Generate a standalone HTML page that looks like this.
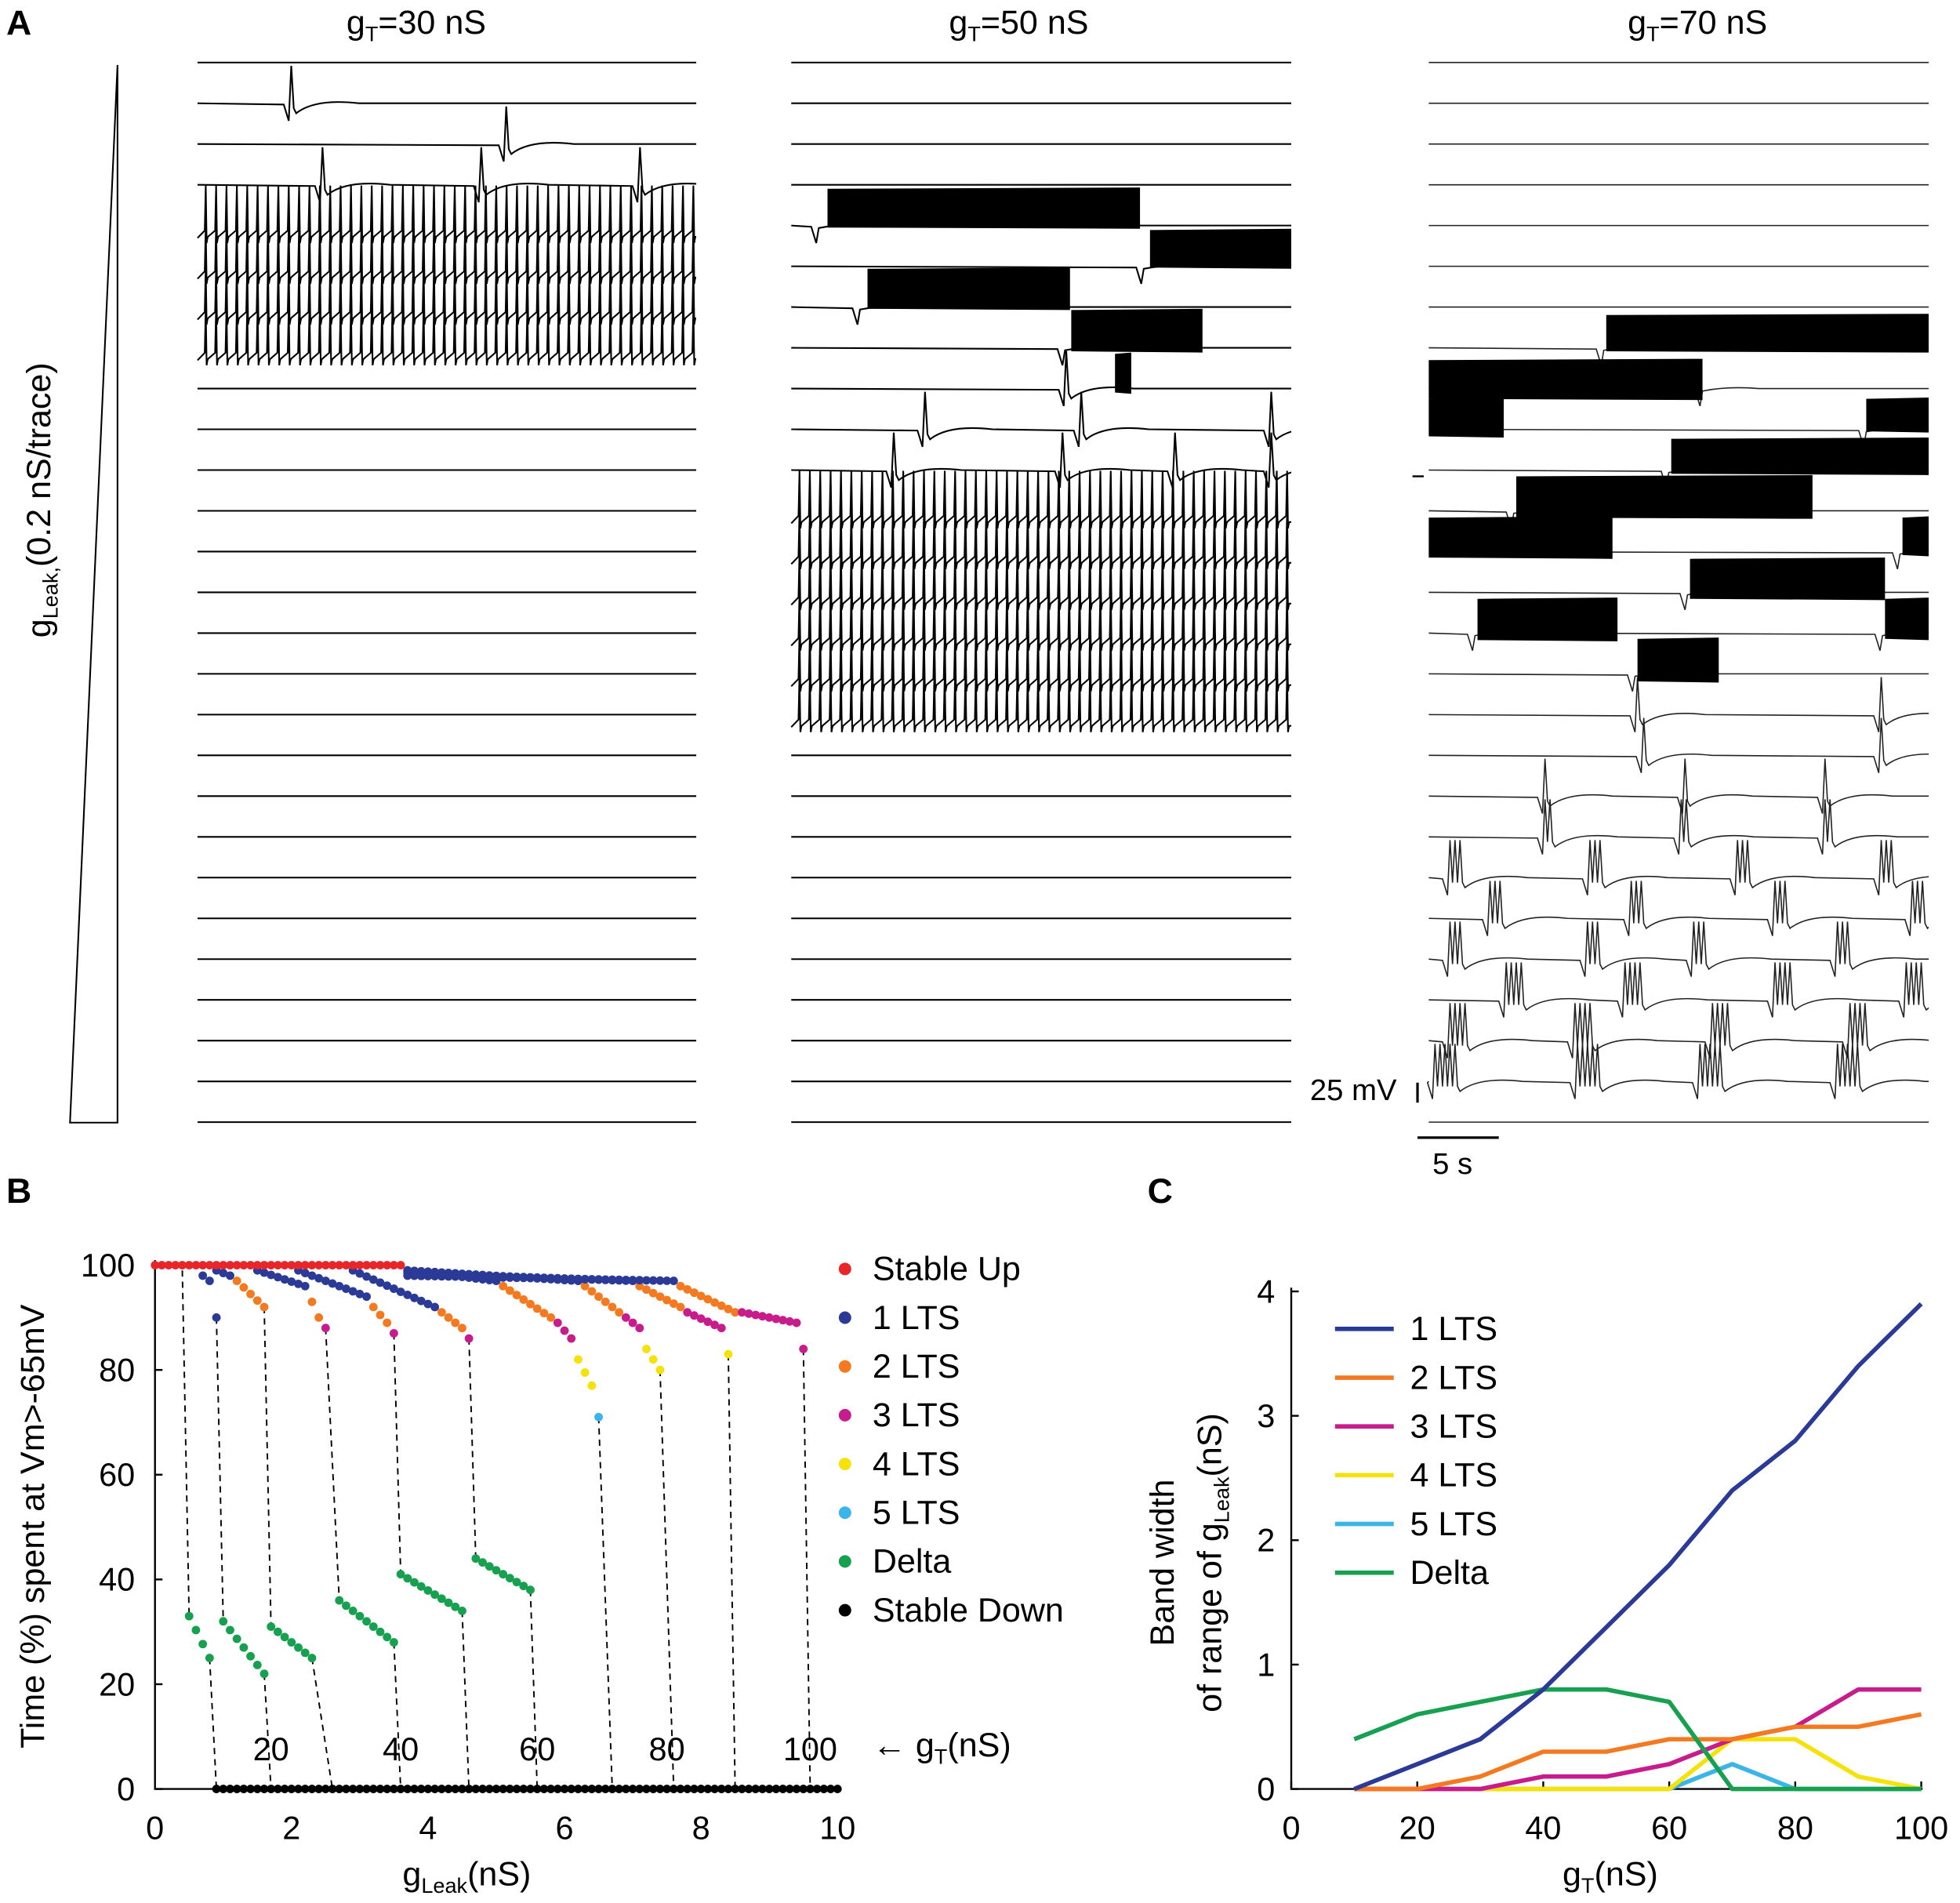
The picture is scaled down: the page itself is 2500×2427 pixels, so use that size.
<!DOCTYPE html>
<html><head><meta charset="utf-8">
<style>
html,body{margin:0;padding:0;background:#fff;}
svg{display:block;font-family:"Liberation Sans",Arial,sans-serif;}
</style></head>
<body>
<svg id="fig" xmlns="http://www.w3.org/2000/svg" width="2500" height="2427" viewBox="0 0 1568 1522.2">
<defs>
<clipPath id="clip0"><rect x="150" y="0" width="407" height="920"/></clipPath>
<clipPath id="clip1"><rect x="625" y="0" width="408" height="920"/></clipPath>
<clipPath id="clip2"><rect x="1135" y="0" width="408" height="920"/></clipPath>
</defs>
<rect width="1568" height="1523" fill="#fff"/>
<text x="5" y="28" font-size="28" font-weight="bold">A</text>
<text x="5" y="962" font-size="28" font-weight="bold">B</text>
<text x="918" y="962" font-size="28" font-weight="bold">C</text>
<text x="333" y="27" font-size="27" text-anchor="middle">g<tspan font-size="17" dy="6">T</tspan><tspan dy="-6">=30 nS</tspan></text>
<text x="815" y="27" font-size="27" text-anchor="middle">g<tspan font-size="17" dy="6">T</tspan><tspan dy="-6">=50 nS</tspan></text>
<text x="1358" y="27" font-size="27" text-anchor="middle">g<tspan font-size="17" dy="6">T</tspan><tspan dy="-6">=70 nS</tspan></text>
<polygon points="56,898 94,898 94,52" fill="none" stroke="#000" stroke-width="1.3"/>
<text transform="translate(40,400) rotate(-90)" font-size="27" text-anchor="middle">g<tspan font-size="17" dy="6">Leak,</tspan><tspan dy="-6">(0.2 nS/trace)</tspan></text>
<text x="1048" y="880" font-size="24">25 mV</text>
<line x1="1134" y1="866" x2="1134" y2="882" stroke="#000" stroke-width="2"/>
<line x1="1134" y1="910" x2="1199" y2="910" stroke="#000" stroke-width="2"/>
<text x="1146" y="939" font-size="24">5 s</text>
<g id="panelA"></g>
<g id="panelB"></g>
<g id="panelC"></g>
</svg>
<script>
const cGT = [10,20,30,40,50,60,70,80,90,100];
const cLTS1 = [0,0.2,0.4,0.8,1.3,1.8,2.4,2.8,3.4,3.9];
const cLTS2 = [0,0,0.1,0.3,0.3,0.4,0.4,0.5,0.5,0.6];
const cLTS3 = [0,0,0,0.1,0.1,0.2,0.4,0.5,0.8,0.8];
const cLTS4 = [0,0,0,0,0,0,0.4,0.4,0.1,0];
const cLTS5 = [0,0,0,0,0,0,0.2,0,0,0];
const cDelta = [0.4,0.6,0.7,0.8,0.8,0.7,0,0,0,0];
const cNames = ["1 LTS","2 LTS","3 LTS","4 LTS","5 LTS","Delta"];
const cColors = ["#2b3a96","#f47a22","#c81b8c","#f5e20a","#3bb4e8","#16a050"];
const cYTicks = [0,1,2,3,4];
const cXTicks = [0,20,40,60,80,100];
const bXTicks = [0,2,4,6,8,10];
const bYTicks = [0,20,40,60,80,100];
const bStableUp = [0,3.6,100];
const bStableDown = [0.9,10,0];
const bLtsSegments = [
 [0.7,0.8,98,97,1],[0.9,0.9,90,90,1],
 [0.9,1.1,99,98,1],[1.2,1.6,97,92,2],
 [1.5,2.2,99,96,1],[2.3,2.4,93,90,2],[2.5,2.5,88,88,3],
 [2.1,3.1,99,94,1],[3.2,3.4,92,89,2],[3.5,3.5,87,87,3],
 [2.9,4.1,99,92,1],[4.2,4.5,91,88,2],[4.6,4.6,86,86,3],
 [3.7,5.0,99,97,1],[5.1,5.8,96,90,2],[5.9,6.1,89,86,3],[6.2,6.4,82,77,4],[6.5,6.5,71,71,5],
 [3.7,6.2,99,97,1],[6.3,6.8,96,91,2],[6.9,7.1,90,88,3],[7.2,7.4,84,80,4],
 [3.7,7.0,98.5,97,1],[7.1,7.7,96,92,2],[7.8,8.3,91,88,3],[8.4,8.4,83,83,4],
 [3.7,7.6,98,97,1],[7.7,8.5,96,91,2],[8.6,9.4,91,89,3],[9.5,9.5,84,84,3]
];
const bDeltaSegments = [[0.5,0.8,33,25],[1.0,1.6,32,22],[1.7,2.3,31,25],[2.7,3.5,36,28],[3.6,4.5,41,34],[4.7,5.5,44,38]];
const bTransStart = [[0.4,99],[0.9,90],[1.6,92],[2.5,88],[3.5,87],[4.6,86],[6.5,71],[7.4,80],[8.4,83],[9.5,84]];
const bZeroX = [0.9,1.7,2.6,3.6,4.6,5.6,6.7,7.6,8.5,9.6];
const bGtLabels = ["20","40","60","80","100"];
const bGtLabelX = [1.7,3.6,5.6,7.5,9.6];
const bLegend = ["Stable Up","1 LTS","2 LTS","3 LTS","4 LTS","5 LTS","Delta","Stable Down"];
const bLegendColors = ["#e8262a","#2b3a96","#f47a22","#c81b8c","#f5e20a","#3bb4e8","#16a050","#000"];
const ltsColors = ["","#2b3a96","#f47a22","#c81b8c","#f5e20a","#3bb4e8"];

const NS = "http://www.w3.org/2000/svg";
function mk(tag, attrs, parent){ const e=document.createElementNS(NS,tag); for(const k in attrs) e.setAttribute(k,attrs[k]); parent.appendChild(e); return e; }

const A = document.getElementById('panelA');
const traceY = k => 50 + k*32.6;
const col1Spikes = {1:[[233,1]],2:[[405,1]],3:[[258,1],[385,1],[512,1]]};
const col1Osc = [4,5,6,7];
const col2Spikes = {4:[[655,0]],5:[[915,0]],6:[[688,0]],7:[[852,0]],8:[[853,1]],9:[[740,1],[865,1],[1017,1]],10:[[715,1],[850,1],[940,1],[1017,1]]};
const col2Blocks = [[4,662,912,150,183],[5,920,1033,183,215],[6,694,856,214,248],[7,857,962,247,282],[7,892,905,282,315]];
const col2Osc = [11,12,13,14,15,16];
const col3Spikes = {7:[[1283,0]],8:[[1362,0]],9:[[1493,0]],10:[[1335,0]],11:[[1211,0]],12:[[1520,0]],13:[[1350,0]],14:[[1180,0],[1506,0]],15:[[1308,0]],
 16:[[1310,1],[1505,1]],17:[[1315,1],[1505,1]],18:[[1236,1],[1348,1],[1460,1]],19:[[1236,2],[1345,2],[1460,2]],
 20:[[1160,3],[1272,3],[1390,3],[1505,3]],21:[[1192,3],[1305,3],[1420,3],[1530,3]],22:[[1160,3],[1270,3],[1355,3],[1470,3]],
 23:[[1205,4],[1300,4],[1420,4],[1525,4]],24:[[1160,4],[1260,4],[1370,4],[1480,4]],25:[[1148,5],[1262,5],[1360,5],[1470,5]]};
const col3Blocks = [[7,1285,1543,251,282],[8,1143,1362,287,320],[9,1143,1203,318,350],[9,1493,1543,318,346],[10,1337,1543,350,380],[11,1213,1450,380,415],[12,1143,1290,413,447],[12,1522,1543,413,445],[13,1352,1508,446,480],[14,1182,1294,478,513],[14,1508,1543,478,512],[15,1310,1375,510,546]];
const cols = [{x0:158,x1:557,spk:col1Spikes,blk:[],osc:col1Osc,col:'#000',sw:1.3},
              {x0:633,x1:1033,spk:col2Spikes,blk:col2Blocks,osc:col2Osc,col:'#000',sw:1.3},
              {x0:1143,x1:1543,spk:col3Spikes,blk:col3Blocks,osc:[],col:'#222',sw:1}];
cols.forEach((c,ci)=>{
  const g=mk('g',{'clip-path':'url(#clip'+ci+')'},A);
  
  
  for(let k=0;k<27;k++){
    const base=traceY(k);
    let d='';
    if(c.osc.includes(k)){
      const P=8.3; d='M'+c.x0+' '+(base+10);
      for(let x=c.x0;x<c.x1-P;x+=P){
        d+=' L'+(x+P*0.7).toFixed(1)+' '+(base+4)+' L'+(x+P*0.8).toFixed(1)+' '+(base-32)+' L'+(x+P*0.88).toFixed(1)+' '+(base+14)+' Q'+(x+P*0.95).toFixed(1)+' '+(base+10)+' '+(x+P).toFixed(1)+' '+(base+9);
      }
      d+=' L'+c.x1+' '+(base+9);
    } else {
      d='M'+c.x0+' '+base;
      const ev=(c.spk[k]||[]);
      ev.forEach(([ex,n])=>{
        d+=' L'+(ex-6)+' '+(base+1)+' L'+(ex-2)+' '+(base+14);
        if(n===0){ d+=' L'+ex+' '+(base+2)+' Q'+(ex+20)+' '+(base-2)+' '+(ex+45)+' '+base; return; }
        for(let i=0;i<n;i++){ d+=' L'+(ex+i*4)+' '+(base-30)+' L'+(ex+i*4+2)+' '+(base+4); }
        const e2=ex+n*4;
        d+=' L'+e2+' '+(base+8)+' Q'+(e2+15)+' '+(base-4)+' '+(e2+50)+' '+base;
      });
      d+=' L'+(c.x1+80)+' '+base;
    }
    const p=mk('path',{d:d,fill:'none',stroke:c.col,'stroke-width':c.sw},g);
    
    
  }
  c.blk.forEach(([k,x0,x1,t,b])=>{
    const r=mk('polygon',{points:x0+','+(t+1)+' '+x1+','+t+' '+x1+','+b+' '+x0+','+(b-1),fill:'#000'},g);
    
    
  });
});
{ const t=mk('line',{x1:1130,y1:381,x2:1139,y2:381,stroke:'#000','stroke-width':1.5},A);
  
   }

const B=document.getElementById('panelB');
const bx=v=>124+v*54.6, by=v=>1431-v*4.19;
{const ax=mk('path',{d:'M124 1008 L124 1431 L670 1431',fill:'none',stroke:'#000','stroke-width':1.5},B);
 
 }
bYTicks.forEach(v=>{
  const t=mk('text',{x:108,y:by(v)+9,'font-size':26,'text-anchor':'end'},B); t.textContent=v;
  
  
  const l=mk('line',{x1:124,y1:by(v),x2:130,y2:by(v),stroke:'#000','stroke-width':1.5},B);
  
  
});
bXTicks.forEach(v=>{
  const t=mk('text',{x:bx(v),y:1471,'font-size':26,'text-anchor':'middle'},B); t.textContent=v;
  
  
});
{const t=mk('text',{transform:'translate(35,1221) rotate(-90)','font-size':27,'text-anchor':'middle'},B);
 t.textContent='Time (%) spent at Vm>-65mV';
 
 }
{const t=mk('text',{x:322,y:1508,'font-size':27},B);
 t.innerHTML='g<tspan font-size="17" dy="6">Leak</tspan><tspan dy="-6">(nS)</tspan>';
 
 }
bTransStart.forEach((s,i)=>{
  let d='M'+bx(s[0])+' '+by(s[1]);
  if(i<bDeltaSegments.length){
    const g=bDeltaSegments[i];
    d+=' L'+bx(g[0])+' '+by(g[2])+' M'+bx(g[1])+' '+by(g[3]);
  }
  d+=' L'+bx(bZeroX[i])+' '+by(0);
  const p=mk('path',{d:d,fill:'none',stroke:'#000','stroke-width':1.2,'stroke-dasharray':'5,4'},B);
  
  
});
function dots(x0,x1,y0,y1,color,name){
  const n=Math.round((x1-x0)/0.1);
  for(let i=0;i<=n;i++){
    const xv=x0+i*0.1, yv=n?y0+(y1-y0)*i/n:y0;
    const c=mk('circle',{cx:bx(xv),cy:by(yv),r:3.4,fill:color},B);
    
    
  }
}
dots(bStableDown[0],bStableDown[1],0,0,'#000','stable-down-dot');
bLtsSegments.forEach(s=>dots(s[0],s[1],s[2],s[3],ltsColors[s[4]],'lts-dot'));
bDeltaSegments.forEach(s=>dots(s[0],s[1],s[2],s[3],'#16a050','delta-dot'));
dots(bStableUp[0],bStableUp[1],bStableUp[2],bStableUp[2],'#e8262a','stable-up-dot');
bGtLabels.forEach((s,i)=>{
  const t=mk('text',{x:bx(bGtLabelX[i]),y:1408,'font-size':26,'text-anchor':'middle'},B); t.textContent=s;
  
  
});
{const t=mk('text',{x:698,y:1405,'font-size':27},B);
 t.innerHTML='← g<tspan font-size="17" dy="6">T</tspan><tspan dy="-6">(nS)</tspan>';
 
 }
bLegend.forEach((s,i)=>{
  const y=1015+i*39;
  const c=mk('circle',{cx:676,cy:y,r:5,fill:bLegendColors[i]},B);
  
  
  const t=mk('text',{x:698,y:y+9,'font-size':27},B); t.textContent=s;
  
  
});

const C=document.getElementById('panelC');
const cx=v=>1033+v*5.04, cy=v=>1431-v*99.5;
{const ax=mk('path',{d:'M1033 1030 L1033 1431 L1538 1431',fill:'none',stroke:'#000','stroke-width':1.5},C);
 
 }
cYTicks.forEach(v=>{
  const t=mk('text',{x:1020,y:cy(v)+9,'font-size':26,'text-anchor':'end'},C); t.textContent=v;
  
  
  const l=mk('line',{x1:1033,y1:cy(v),x2:1039,y2:cy(v),stroke:'#000','stroke-width':1.5},C);
  
  
});
cXTicks.forEach(v=>{
  const t=mk('text',{x:cx(v),y:1471,'font-size':26,'text-anchor':'middle'},C); t.textContent=v;
  
  
  const l=mk('line',{x1:cx(v),y1:1431,x2:cx(v),y2:1425,stroke:'#000','stroke-width':1.5},C);
  
  
});
{const t=mk('text',{transform:'translate(939,1250) rotate(-90)','font-size':27,'text-anchor':'middle'},C);
 t.textContent='Band width';
 
 
 const t2=mk('text',{transform:'translate(977,1250) rotate(-90)','font-size':27,'text-anchor':'middle'},C);
 t2.innerHTML='of range of g<tspan font-size="17" dy="6">Leak</tspan><tspan dy="-6">(nS)</tspan>';
 
 
 const t3=mk('text',{x:1250,y:1508,'font-size':27},C);
 t3.innerHTML='g<tspan font-size="17" dy="6">T</tspan><tspan dy="-6">(nS)</tspan>';
 
 }
const cSeries=[cLTS1,cLTS2,cLTS3,cLTS4,cLTS5,cDelta];
[4,3,2,1,5,0].forEach(si=>{
  const d=cSeries[si].map((v,i)=>(i?'L':'M')+cx(cGT[i])+' '+cy(v)).join(' ');
  const p=mk('path',{d:d,fill:'none',stroke:cColors[si],'stroke-width':3.5,'stroke-linejoin':'round'},C);
  
  
});
cNames.forEach((s,i)=>{
  const y=1063+i*39;
  const l=mk('line',{x1:1068,y1:y,x2:1115,y2:y,stroke:cColors[i],'stroke-width':3.5},C);
  
  
  const t=mk('text',{x:1128,y:y+9,'font-size':27},C); t.textContent=s;
  
  
});
</script>
</body></html>
